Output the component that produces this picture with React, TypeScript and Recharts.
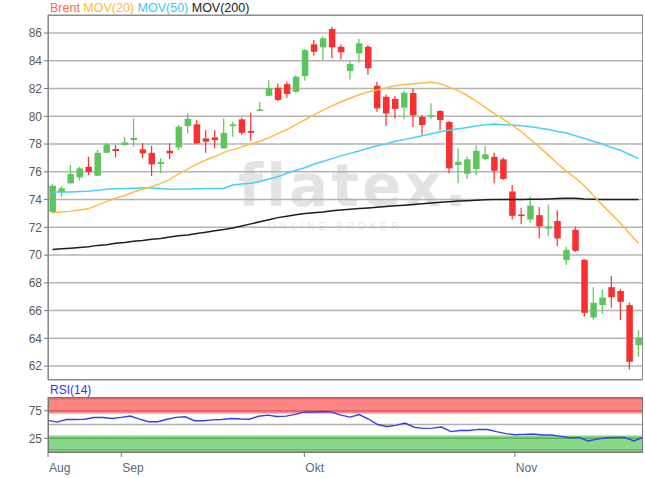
import React from "react";
import {
  ComposedChart,
  Bar,
  Line,
  XAxis,
  YAxis,
  CartesianGrid,
  ReferenceArea,
  ReferenceLine,
} from "recharts";

// trading days, Aug 22 - Nov 21
const dates = [
  "08-22", "08-23", "08-24", "08-27", "08-28", "08-29", "08-30", "08-31",
  "09-03", "09-04", "09-05", "09-06", "09-07", "09-10", "09-11", "09-12", "09-13", "09-14",
  "09-17", "09-18", "09-19", "09-20", "09-21", "09-24", "09-25", "09-26", "09-27", "09-28",
  "10-01", "10-02", "10-03", "10-04", "10-05", "10-08", "10-09", "10-10", "10-11", "10-12",
  "10-15", "10-16", "10-17", "10-18", "10-19", "10-22", "10-23", "10-24", "10-25", "10-26",
  "10-29", "10-30", "10-31",
  "11-01", "11-02", "11-05", "11-06", "11-07", "11-08", "11-09", "11-12", "11-13", "11-14",
  "11-15", "11-16", "11-19", "11-20", "11-21",
];

const opens = [
  73.1, 74.52, 75.17, 75.6, 76.36, 75.72, 77.37, 77.64, 77.93, 78.29,
  77.62, 77.37, 76.56, 77.52, 77.76, 79.3, 79.42, 78.41, 78.48, 77.69,
  79.3, 79.78, 78.94, 80.4, 81.48, 82.06, 82.32, 81.77, 82.9, 85.19,
  84.97, 86.29, 85.01, 83.26, 84.54, 85.01, 82.2, 81.41, 81.26, 80.63,
  81.68, 79.95, 79.98, 80.38, 79.59, 76.49, 75.86, 76.2, 76.92, 77.08,
  76.9, 74.58, 72.92, 72.57, 72.88, 71.91, 72.45, 69.64, 71.82, 69.66,
  65.51, 66.4, 67.69, 67.41, 66.4, 63.51,
];
const highs = [
  75.1, 74.97, 76.49, 76.36, 77.08, 77.57, 78.1, 77.93, 78.53, 79.85,
  78.05, 77.86, 76.97, 78.05, 79.37, 80.21, 79.73, 79.0, 79.0, 79.85,
  79.6, 79.92, 80.26, 81.05, 82.61, 82.37, 82.49, 82.97, 84.85, 85.5,
  85.8, 86.45, 85.19, 84.0, 85.57, 85.14, 82.49, 81.58, 81.46, 81.84,
  82.01, 80.09, 80.95, 80.45, 79.66, 77.69, 77.11, 77.91, 77.86, 77.39,
  77.03, 75.05, 73.39, 74.22, 73.46, 73.64, 73.24, 70.61, 72.05, 69.71,
  67.69, 67.51, 68.49, 67.55, 66.58, 64.59,
];
const lows = [
  73.0, 74.2, 75.15, 75.4, 75.77, 75.7, 77.35, 77.04, 77.9, 77.8,
  76.97, 75.7, 75.93, 76.9, 77.57, 78.77, 78.0, 77.37, 77.69, 77.69,
  78.53, 78.65, 78.24, 80.4, 81.46, 81.1, 81.34, 81.7, 82.56, 84.36,
  84.05, 84.18, 84.1, 82.66, 83.86, 82.97, 80.33, 79.3, 79.85, 79.78,
  79.23, 78.68, 79.78, 79.0, 75.9, 75.17, 75.49, 75.74, 76.85, 75.17,
  75.41, 72.57, 72.23, 72.33, 71.2, 71.35, 70.65, 69.28, 70.22, 65.55,
  65.35, 65.78, 66.22, 65.32, 61.75, 62.67,
];
const closes = [
  75.0, 74.81, 75.84, 76.25, 76.0, 77.37, 77.98, 77.5, 78.12, 78.45,
  77.33, 76.54, 76.7, 77.33, 79.25, 79.82, 78.05, 78.17, 78.29, 78.81,
  79.42, 78.81, 78.81, 80.5, 82.01, 81.17, 81.6, 82.85, 84.77, 84.65,
  85.62, 84.97, 84.61, 83.77, 85.26, 83.46, 80.57, 80.21, 80.54, 81.7,
  80.07, 79.37, 80.07, 79.73, 76.25, 76.72, 76.9, 77.52, 77.26, 76.08,
  75.49, 72.83, 72.83, 73.57, 72.07, 72.07, 71.2, 70.38, 70.31, 65.84,
  66.56, 66.94, 66.97, 66.63, 62.31, 64.05,
];

const mov20 = [
  73.05, 73.1, 73.15, 73.25, 73.35, 73.6, 73.85, 74.1, 74.3, 74.55,
  74.75, 74.95, 75.15, 75.45, 75.85, 76.2, 76.55, 76.85, 77.1, 77.4,
  77.6, 77.8, 78.0, 78.2, 78.45, 78.75, 79.05, 79.4, 79.75, 80.1,
  80.45, 80.75, 81.05, 81.3, 81.55, 81.75, 81.9, 82.05, 82.2, 82.3,
  82.35, 82.4, 82.45, 82.35, 82.1, 81.85, 81.5, 81.1, 80.65, 80.2,
  79.8, 79.35, 78.9, 78.35, 77.8, 77.2, 76.6, 76.05, 75.55, 75.0,
  74.3, 73.6, 72.95, 72.3, 71.55, 70.85,
];
const mov50 = [
  74.55, 74.55, 74.55, 74.58, 74.6, 74.68, 74.75, 74.78, 74.8, 74.82,
  74.85, 74.83, 74.8, 74.75, 74.75, 74.76, 74.78, 74.8, 74.8, 74.82,
  75.05, 75.12, 75.18, 75.3, 75.48, 75.65, 75.9, 76.12, 76.3, 76.55,
  76.75, 76.95, 77.15, 77.33, 77.5, 77.7, 77.88, 78.0, 78.2, 78.32,
  78.45, 78.6, 78.75, 78.88, 79.0, 79.1, 79.2, 79.3, 79.4, 79.45,
  79.4, 79.38, 79.32, 79.25, 79.15, 79.05, 78.9, 78.8, 78.6, 78.4,
  78.2, 78.0, 77.75, 77.55, 77.25, 76.95,
];
const mov200 = [
  70.4, 70.45, 70.5, 70.55, 70.6, 70.7, 70.75, 70.85, 70.9, 71.0,
  71.05, 71.15, 71.2, 71.3, 71.4, 71.45, 71.55, 71.65, 71.75, 71.85,
  71.95, 72.1, 72.25, 72.4, 72.55, 72.7, 72.8, 72.9, 73.0, 73.05,
  73.1, 73.2, 73.25, 73.3, 73.35, 73.4, 73.45, 73.5, 73.55, 73.6,
  73.65, 73.7, 73.75, 73.8, 73.85, 73.9, 73.92, 73.95, 73.98, 74.0,
  74.0, 74.0, 74.0, 74.02, 74.02, 74.05, 74.08, 74.1, 74.1, 74.05,
  74.02, 74.0, 74.0, 74.0, 74.0, 74.0,
];
const rsi = [
  57.4, 54.4, 59.0, 59.2, 59.5, 62.8, 62.8, 61.0, 63.0, 65.3,
  59.8, 55.0, 55.0, 59.5, 63.0, 64.0, 56.8, 56.8, 58.5, 59.2,
  61.0, 60.0, 59.5, 65.0, 67.0, 64.6, 65.3, 68.5, 73.0, 72.6,
  73.5, 72.5, 67.0, 63.5, 68.0, 60.0, 50.0, 46.5, 48.5, 52.6,
  45.0, 43.0, 43.5, 45.3, 37.0, 39.0, 39.2, 41.2, 41.0, 37.0,
  33.5, 31.5, 32.0, 32.6, 30.8, 30.8, 28.5, 26.0, 26.5, 20.0,
  23.5, 26.0, 26.5, 26.5, 20.0, 26.5,
];

const priceTicks = [62, 64, 66, 68, 70, 72, 74, 76, 78, 80, 82, 84, 86];
const monthTicks = ["08-22", "09-03", "10-01", "11-01"];
const monthLabels: Record<string, string> = {
  "08-22": "Aug",
  "09-03": "Sep",
  "10-01": "Okt",
  "11-01": "Nov",
};

const UP = "#5cc65c";
const DOWN = "#f83030";
const FONT = "'Liberation Sans', Arial, sans-serif";

const rows = dates.map((d, i) => ({
  d,
  o: opens[i],
  h: highs[i],
  l: lows[i],
  c: closes[i],
  range: [lows[i], highs[i]],
  m20: mov20[i],
  m50: mov50[i],
  m200: mov200[i],
  rsi: rsi[i],
}));

const Candle = (props: any) => {
  const { x, y, width, height, payload } = props;
  if (x == null || y == null) return null;
  const top = Math.min(y, y + height);
  const hgt = Math.abs(height);
  const { o, h, l, c } = payload;
  const per = hgt / (h - l || 1);
  const toY = (v: number) => top + (h - v) * per;
  const color = c >= o ? UP : DOWN;
  const cx = x + width / 2;
  const bTop = toY(Math.max(o, c));
  const bBot = toY(Math.min(o, c));
  return (
    <g>
      <line x1={cx} x2={cx} y1={top} y2={top + hgt} stroke={color} strokeWidth={1.2} />
      <rect x={cx - 3} y={bTop} width={6.5} height={Math.max(1.5, bBot - bTop)} fill={color} />
    </g>
  );
};

const MonthTick = (props: any) => {
  const { x, y, payload } = props;
  return (
    <text x={x + 1} y={y + 13} textAnchor="start" fill="#5a6876" fontSize={12} fontFamily={FONT}>
      {monthLabels[payload.value]}
    </text>
  );
};

export default function App() {
  return (
    <div
      style={{
        position: "absolute",
        left: 0,
        top: 0,
        width: 645,
        height: 478,
        background: "#fff",
        fontFamily: FONT,
        overflow: "hidden",
      }}
    >
      {/* legend */}
      <div style={{ position: "absolute", left: 50, top: 1, fontSize: 12.5, whiteSpace: "nowrap" }}>
        <span style={{ color: "#ff6a48" }}>Brent </span>
        <span style={{ color: "#ffb832" }}>MOV(20) </span>
        <span style={{ color: "#38c8f5" }}>MOV(50) </span>
        <span style={{ color: "#222" }}>MOV(200)</span>
      </div>

      {/* watermark */}
      <div
        style={{
          position: "absolute",
          left: 238,
          top: 152,
          fontSize: 58,
          fontWeight: "bold",
          fontFamily: "'DejaVu Sans', sans-serif",
          letterSpacing: 3,
          color: "rgba(0,0,0,0.11)",
          whiteSpace: "nowrap",
        }}
      >
        flatex.
      </div>
      <div
        style={{
          position: "absolute",
          left: 268,
          top: 221,
          fontSize: 10,
          letterSpacing: 4,
          color: "rgba(0,0,0,0.13)",
          whiteSpace: "nowrap",
        }}
      >
        ONLINE BROKER
      </div>

      <div style={{ position: "absolute", left: 0, top: 0 }}>
        <ComposedChart width={645} height={385} data={rows} margin={{ top: 15, right: 2, bottom: 5, left: 8 }}>
          <CartesianGrid vertical={false} stroke="#b4b4b4" strokeWidth={1.5} />
          <XAxis dataKey="d" hide />
          <YAxis
            domain={[61, 87.3]}
            ticks={priceTicks}
            allowDataOverflow
            width={40}
            tick={{ fill: "#5a5a5a", fontSize: 12, fontFamily: FONT }}
            tickSize={4}
            axisLine={{ stroke: "#777" }}
            tickLine={{ stroke: "#777" }}
          />
          <Line dataKey="m200" stroke="#1e1e1e" strokeWidth={1.5} dot={false} isAnimationActive={false} />
          <Line dataKey="m50" stroke="#45d2f7" strokeWidth={1.5} dot={false} isAnimationActive={false} />
          <Line dataKey="m20" stroke="#fdbd45" strokeWidth={1.5} dot={false} isAnimationActive={false} />
          <Bar dataKey="range" shape={<Candle />} isAnimationActive={false} />
        </ComposedChart>
      </div>
      <div
        style={{
          position: "absolute",
          left: 48,
          top: 15,
          width: 595,
          height: 365,
          border: "1px solid #8c8c8c",
          boxSizing: "border-box",
          pointerEvents: "none",
        }}
      />

      {/* RSI panel */}
      <div style={{ position: "absolute", left: 50, top: 383, fontSize: 12, color: "#3434f0" }}>RSI(14)</div>
      <div style={{ position: "absolute", left: 0, top: 385 }}>
        <ComposedChart width={645} height={93} data={rows} margin={{ top: 12, right: 2, bottom: 4, left: 8 }}>
          <ReferenceArea y1={70} y2={100} fill="#ff8585" fillOpacity={1} stroke="none" />
          <ReferenceArea y1={0} y2={30} fill="#88d888" fillOpacity={1} stroke="none" />
          <ReferenceLine y={97} stroke="#e06a6a" strokeWidth={1.5} />
          <ReferenceLine y={75} stroke="#d46464" strokeWidth={1.5} />
          <ReferenceLine y={50} stroke="#b0b0b0" strokeWidth={1.5} />
          <ReferenceLine y={25} stroke="#5fae5f" strokeWidth={1.5} />
          <ReferenceLine y={4} stroke="#6cbc6c" strokeWidth={1.5} />
          <XAxis
            dataKey="d"
            ticks={monthTicks}
            interval={0}
            height={22}
            tick={<MonthTick />}
            tickSize={5}
            axisLine={{ stroke: "#777" }}
            tickLine={{ stroke: "#777" }}
          />
          <YAxis
            domain={[0, 100]}
            ticks={[25, 75]}
            width={40}
            tick={{ fill: "#5a5a5a", fontSize: 12, fontFamily: FONT }}
            tickSize={4}
            axisLine={{ stroke: "#777" }}
            tickLine={{ stroke: "#777" }}
          />
          <Line dataKey="rsi" stroke="#3b3bf2" strokeWidth={1.4} dot={false} isAnimationActive={false} />
        </ComposedChart>
      </div>
      <div
        style={{
          position: "absolute",
          left: 48,
          top: 397,
          width: 595,
          height: 56,
          border: "1px solid #777",
          boxSizing: "border-box",
          pointerEvents: "none",
        }}
      />
    </div>
  );
}
